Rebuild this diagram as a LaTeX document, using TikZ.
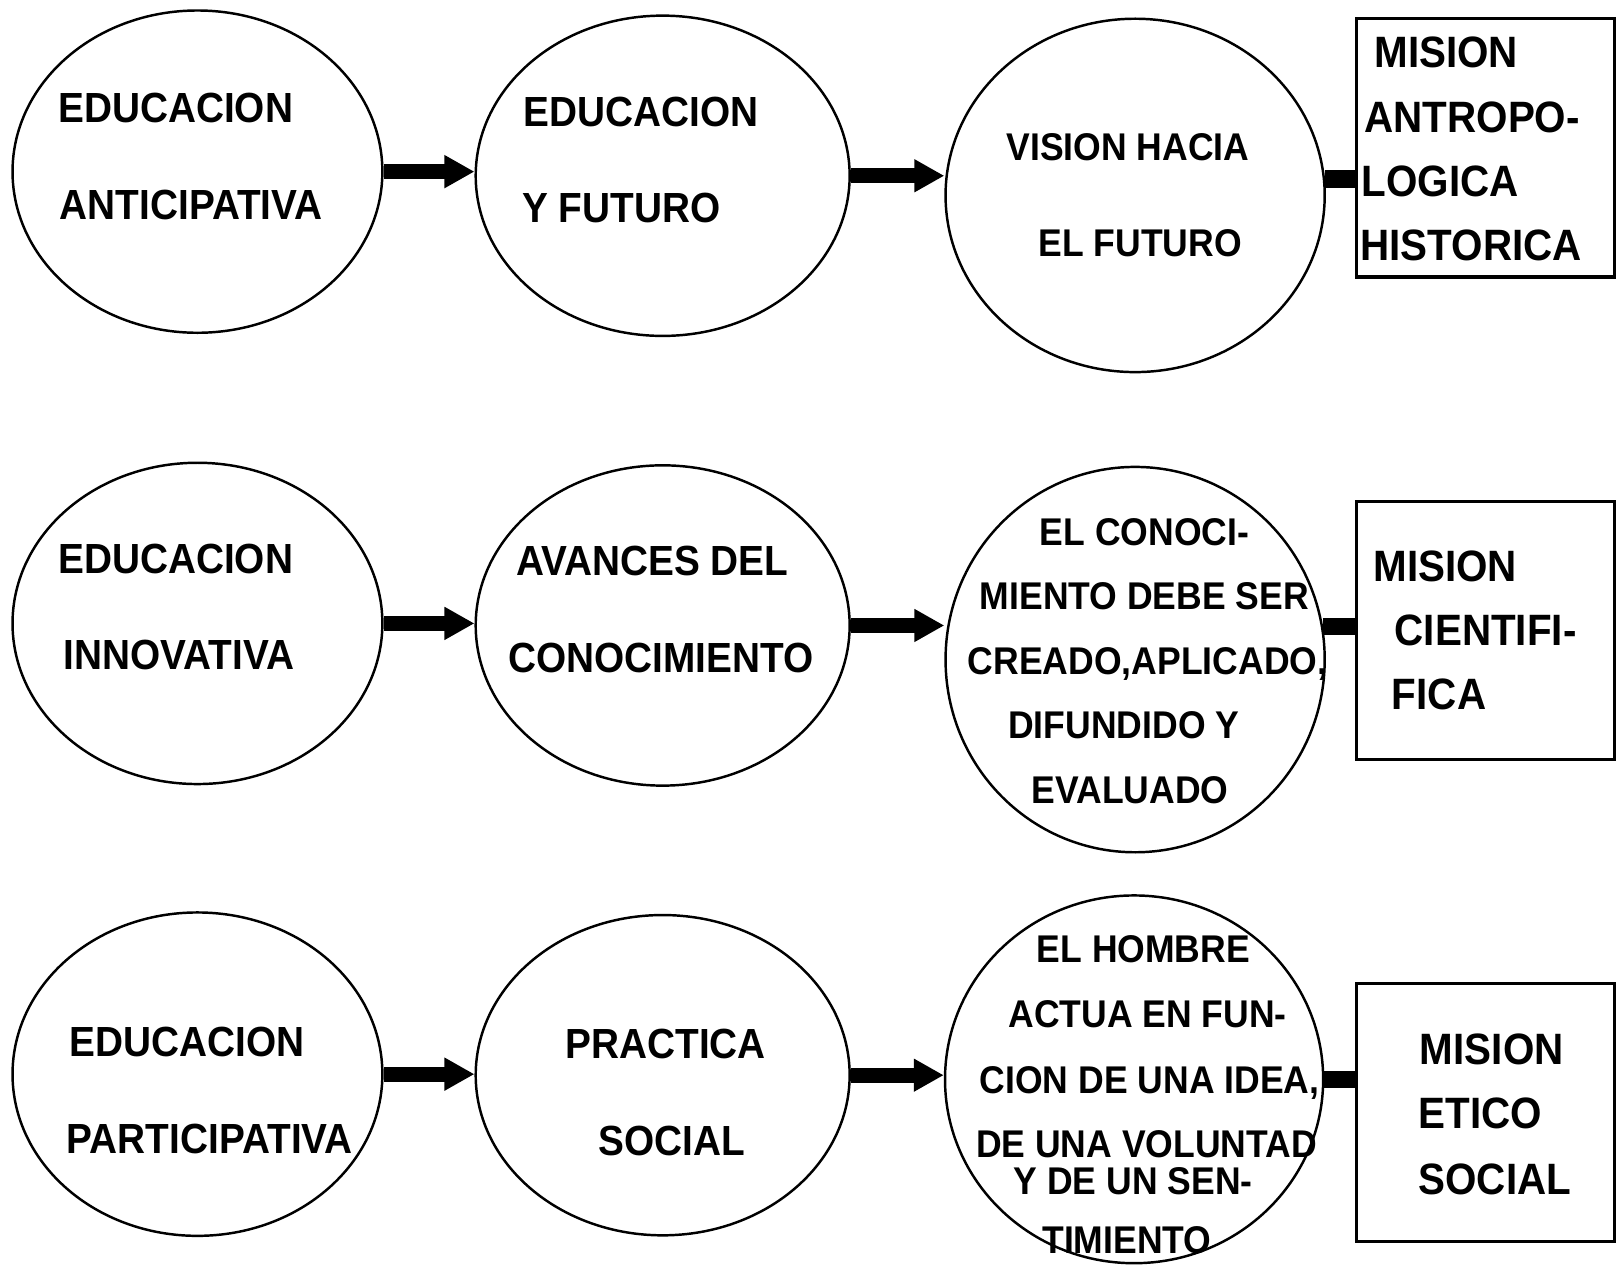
\documentclass[tikz,border=0pt]{standalone}
\usepackage{fontspec}
\newfontfamily\lblfont{Liberation Sans}[FakeStretch=0.92]
\usetikzlibrary{shapes.geometric,arrows.meta}

\tikzset{
  circ/.style={ellipse, draw, line width=0.7pt, inner sep=0pt},
  mbox/.style={rectangle, draw, line width=0.9pt, inner sep=0pt,
    minimum width=2.585cm, minimum height=2.585cm},
  lbl/.style={anchor=base, inner sep=0pt, font=\lblfont\bfseries\fontsize{12}{14}\selectfont},
  slbl/.style={lbl, font=\lblfont\bfseries\fontsize{11}{13}\selectfont},
  blbl/.style={lbl, font=\lblfont\bfseries\fontsize{12.5}{15}\selectfont},
  flow/.style={line width=4.2pt, -{Triangle[length=3mm, width=3.1mm]}},
  link/.style={line width=5pt}
}

\begin{document}
\begin{tikzpicture}[x=0.010338cm, y=-0.010338cm]
    \useasboundingbox (0,0) rectangle (1568,1226);
    %circles
    \node[circ, minimum width=3.701cm, minimum height=3.225cm] (e11) at (191,166) {};
    \node[circ, minimum width=3.742cm, minimum height=3.205cm] (e12) at (641,170) {};
    \node[circ, minimum width=3.794cm, minimum height=3.536cm] (e13) at (1098,189) {};
    \node[circ, minimum width=3.701cm, minimum height=3.215cm] (e21) at (191,603) {};
    \node[circ, minimum width=3.742cm, minimum height=3.205cm] (e22) at (641,605) {};
    \node[circ, minimum width=3.794cm, minimum height=3.856cm] (e23) at (1098,638) {};
    \node[circ, minimum width=3.701cm, minimum height=3.236cm] (e31) at (191,1039) {};
    \node[circ, minimum width=3.742cm, minimum height=3.205cm] (e32) at (641,1040) {};
    \node[circ, minimum width=3.784cm, minimum height=3.680cm] (e33) at (1097,1044) {};
    %boxes
    \node[mbox] (b1) at (1437,143) {};
    \node[mbox] (b2) at (1437,610) {};
    \node[mbox] (b3) at (1437,1076) {};
    %arrows
    \draw[flow] (e11.east) -- (e11.east -| e12.west);
    \draw[flow] (e12.east) -- (e12.east -| e13.west);
    \draw[flow] (e21.east) -- (e21.east -| e22.west);
    \draw[flow] (e22.east) -- (e22.east -| e23.west);
    \draw[flow] (e31.east) -- (e31.east -| e32.west);
    \draw[flow] (e32.east) -- (e32.east -| e33.west);
    \draw[link] (e13.5) -- (e13.5 -| b1.west);
    \draw[link] (e23.10) -- (e23.10 -| b2.west);
    \draw[link] (e33.east) -- (e33.east -| b3.west);
    %labels
    \node[lbl] (t11a) at (170,118) {EDUCACION};
    \node[lbl] (t11b) at (185,212) {ANTICIPATIVA};
    \node[lbl] (t12a) at (620,122) {EDUCACION};
    \node[lbl] (t12b) at (601,215) {Y FUTURO};
    \node[slbl] (t13a) at (1091,155) {VISION HACIA};
    \node[slbl] (t13b) at (1103,248) {EL FUTURO};
    \node[blbl] (m1a) at (1399,65) {MISION};
    \node[blbl] (m1b) at (1424,128) {ANTROPO-};
    \node[blbl] (m1c) at (1393,190) {LOGICA};
    \node[blbl] (m1d) at (1423,252) {HISTORICA};

    \node[lbl] (t21a) at (170,555) {EDUCACION};
    \node[lbl] (t21b) at (173,648) {INNOVATIVA};
    \node[lbl] (t22a) at (631,557) {AVANCES DEL};
    \node[lbl] (t22b) at (639,650) {CONOCIMIENTO};
    \node[slbl] (t23a) at (1107,528) {EL CONOCI-};
    \node[slbl] (t23b) at (1107,590) {MIENTO DEBE SER};
    \node[slbl] (t23c) at (1110,652) {CREADO,APLICADO,};
    \node[slbl] (t23d) at (1087,714) {DIFUNDIDO Y};
    \node[slbl] (t23e) at (1093,777) {EVALUADO};
    \node[blbl] (m2a) at (1398,562) {MISION};
    \node[blbl] (m2b) at (1437,624) {CIENTIFI-};
    \node[blbl] (m2c) at (1392,686) {FICA};

    \node[lbl] (t31a) at (181,1022) {EDUCACION};
    \node[lbl] (t31b) at (203,1116) {PARTICIPATIVA};
    \node[lbl] (t32a) at (644,1024) {PRACTICA};
    \node[lbl] (t32b) at (650,1118) {SOCIAL};
    \node[slbl] (t33a) at (1106,931) {EL HOMBRE};
    \node[slbl] (t33b) at (1110,994) {ACTUA EN FUN-};
    \node[slbl] (t33c) at (1112,1058) {CION DE UNA IDEA,};
    \node[slbl] (t33d) at (1109,1120) {DE UNA VOLUNTAD};
    \node[slbl] (t33e) at (1096,1155) {Y DE UN SEN-};
    \node[slbl] (t33f) at (1090,1212) {TIMIENTO};
    \node[blbl] (m3a) at (1443,1030) {MISION};
    \node[blbl] (m3b) at (1432,1092) {ETICO};
    \node[blbl] (m3c) at (1446,1155) {SOCIAL};
\end{tikzpicture}
\end{document}
